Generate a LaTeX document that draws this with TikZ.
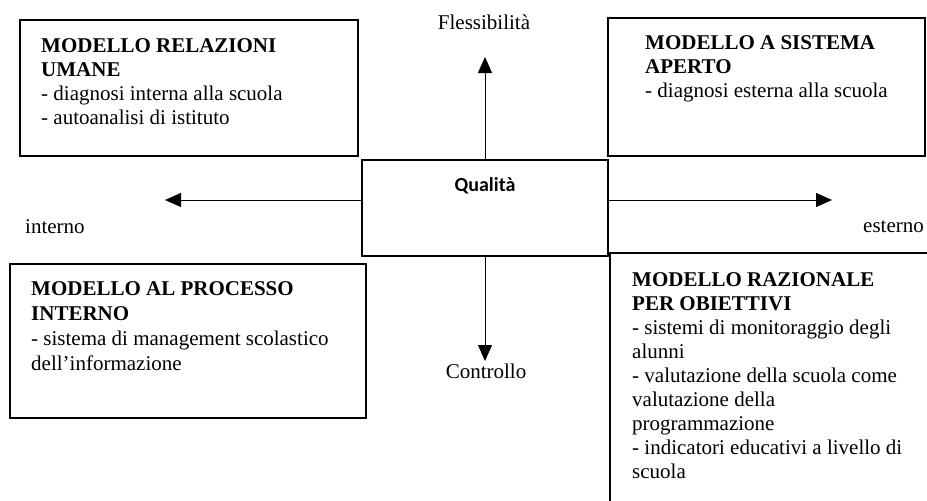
\documentclass[tikz,border=0pt]{standalone}
\usepackage{fontspec}
\setmainfont{Liberation Serif}
\newfontfamily\qualfont{Carlito}
\usetikzlibrary{arrows.meta}
\tikzset{
  boxline/.style={draw=black, line width=1.5pt},
  arr/.style={line width=1pt, -{Triangle[length=16pt,width=14pt]}},
  boxtext/.style={anchor=base west, inner sep=0pt, font=\fontsize{21}{24}\selectfont},
  lbl/.style={inner sep=0pt, font=\fontsize{21}{24}\selectfont},
}
\begin{document}
\begin{tikzpicture}[x=1pt, y=-1pt]
\useasboundingbox (0,0) rectangle (927,501);
\clip (0,0) rectangle (927,501);
% boxes
\draw[boxline] (20,20) rectangle (358,156);
\draw[boxline] (608,18) rectangle (925,156);
\draw[boxline] (10,264) rectangle (366,418);
\draw[boxline] (610,253) rectangle (940,520);
\node[boxline, minimum width=246pt, minimum height=96pt, inner sep=0pt] (q) at (485,208) {};
\node[anchor=base, inner sep=0pt, font=\qualfont\bfseries\fontsize{20}{24}\selectfont] (qt) at (485,191) {Qualità};
% box texts
\node[boxtext] (b1) at (41,52) {\parbox[t]{310pt}{\raggedright\textbf{MODELLO RELAZIONI}\\\textbf{UMANE}\\- diagnosi interna alla scuola\\- autoanalisi di istituto}};
\node[boxtext] (b2) at (645,49) {\parbox[t]{270pt}{\raggedright\textbf{MODELLO A SISTEMA}\\\textbf{APERTO}\\- diagnosi esterna alla scuola}};
\node[boxtext] (b3) at (31,295) {\parbox[t]{330pt}{\raggedright\baselineskip=25pt\textbf{MODELLO AL PROCESSO}\\\textbf{INTERNO}\\- sistema di management scolastico\\dell’informazione}};
\node[boxtext] (b4) at (632,286) {\parbox[t]{290pt}{\raggedright\textbf{MODELLO RAZIONALE}\\\textbf{PER OBIETTIVI}\\- sistemi di monitoraggio degli\\alunni\\- valutazione della scuola come\\valutazione della\\programmazione\\- indicatori educativi a livello di\\scuola}};
% axis labels
\node[lbl, anchor=base] (fl) at (484,29) {Flessibilità};
\node[lbl, anchor=base] (co) at (486,378) {Controllo};
\node[lbl, anchor=base west] (in) at (25,233) {interno};
\node[lbl, anchor=base west] (es) at (863,232) {esterno};
% arrows
\coordinate (up) at (485,57);
\coordinate (dn) at (485,361);
\coordinate (lt) at (165,200);
\coordinate (rt) at (832,200);
\draw[arr] (q.north) -- (up);
\draw[arr] (q.south) -- (dn);
\draw[arr] (lt -| q.west) -- (lt);
\draw[arr] (rt -| q.east) -- (rt);
\end{tikzpicture}
\end{document}
